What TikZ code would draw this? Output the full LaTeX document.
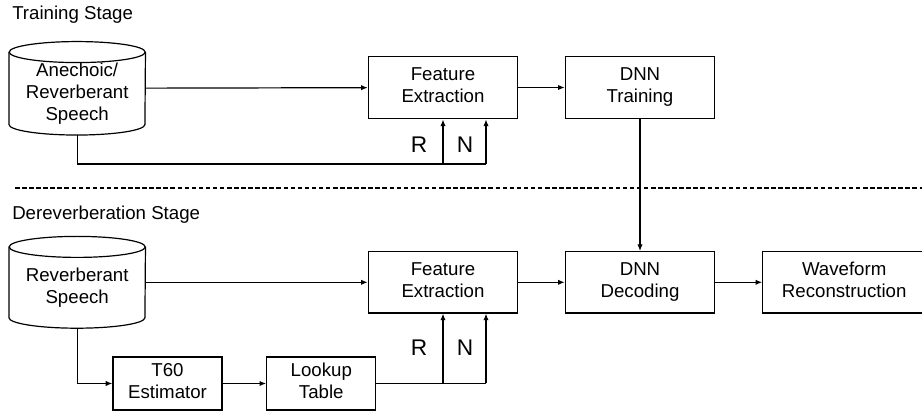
\documentclass[tikz,border=0pt]{standalone}
\usepackage{fontspec}
\setmainfont{Liberation Sans}
\usetikzlibrary{positioning,arrows.meta,calc}

\begin{document}
\begin{tikzpicture}[x=0.75pt,y=-0.75pt]
  \newcommand{\nodename}[1]{\begin{tabular}{c}#1\end{tabular}}
  % outline of a speech database round an (invisible) node
  \newcommand{\drawdb}[1]{
    \draw [wire] ([yshift=-7.9pt]#1.north) ellipse [x radius=68, y radius=10.5];
    \draw [wire] ([yshift=-7.9pt]#1.north west) -- ([yshift=7.9pt]#1.south west)
      arc [start angle=180, end angle=0, x radius=68, y radius=10.5] -- ([yshift=-7.9pt]#1.north east);
  }

  \tikzstyle{block}      = [rectangle, draw, line width=0.9pt, inner sep=0pt, minimum width=112pt, minimum height=47pt, font=\fontsize{14}{16.5}\selectfont]
  \tikzstyle{smallblock} = [block, minimum width=81.75pt, minimum height=39.75pt]
  \tikzstyle{database}   = [rectangle, inner sep=0pt, minimum width=102pt, minimum height=69.75pt]
  \tikzstyle{dbtext}     = [align=center, font=\fontsize{14}{16.5}\selectfont, yshift=-4.5pt]
  \tikzstyle{connector}  = [line width=0.9pt, -{Latex[length=5pt,width=4pt]}]
  \tikzstyle{wire}       = [line width=0.9pt]
  \tikzstyle{stage}      = [anchor=base west, inner sep=0pt, font=\fontsize{14}{16.5}\selectfont]
  \tikzstyle{tag}        = [inner sep=0pt, font=\fontsize{17}{20}\selectfont]

  \clip (0,0) rectangle (922,413);

  % training stage
  \node [stage] (trainstage) at (12,19.5) {Training Stage};

  \node [database, label={[dbtext]center:{\nodename{Anechoic/\\Reverberant\\Speech}}}] (trainspeech) at (77.2,88.3) {};
  \drawdb{trainspeech}
  \node [block] (trainfeat) at (443,87.5) {\nodename{Feature\\Extraction}};
  \node [block] (dnntrain) at (640,87.5) {\nodename{DNN\\Training}};

  \node [tag] (rtag1) at (419,145) {R};
  \node [tag] (ntag1) at (465,145) {N};
  \coordinate (rtap1) at (443,164);
  \coordinate (ntap1) at (486,164);

  \draw [connector] (trainspeech) -- (trainfeat);
  \draw [connector] (trainfeat) -- (dnntrain);
  \draw [wire] (trainspeech.south) |- (ntap1);
  \draw [connector] (rtap1) -- (rtap1 |- trainfeat.south);
  \draw [connector] (ntap1) -- (ntap1 |- trainfeat.south);

  \draw [dashed, dash pattern=on 3.4pt off 1.9pt, line width=0.8pt] (15,188) -- (922,188);

  % dereverberation stage
  \node [stage] (derevstage) at (12,219.5) {Dereverberation Stage};

  \node [database, minimum height=68.5pt, label={[dbtext]center:{\nodename{Reverberant\\Speech}}}] (revspeech) at (77.2,282.3) {};
  \drawdb{revspeech}
  \node [block, minimum height=46pt] (revfeat) at (443,282.3) {\nodename{Feature\\Extraction}};
  \node [block, minimum height=46pt] (dnndecode) at (640,282.3) {\nodename{DNN\\Decoding}};
  \node [block, minimum height=46pt, minimum width=122pt] (waveform) at (844.2,282.3) {\nodename{Waveform\\Reconstruction}};

  \node [smallblock] (t60) at (167.5,383.5) {\nodename{T60\\Estimator}};
  \node [smallblock] (lookup) at (321.3,383.5) {\nodename{Lookup\\Table}};

  \node [tag] (rtag2) at (419,347.5) {R};
  \node [tag] (ntag2) at (465,347.5) {N};
  \coordinate (rtap2) at (443,383.5);
  \coordinate (ntap2) at (486,383.5);

  \draw [connector] (revspeech) -- (revfeat);
  \draw [connector] (revfeat) -- (dnndecode);
  \draw [connector] (dnndecode) -- (waveform);
  \draw [connector] (dnntrain) -- (dnndecode);
  \draw [connector] (revspeech.south) |- (t60.west);
  \draw [connector] (t60) -- (lookup);
  \draw [wire] (lookup.east) -- (ntap2);
  \draw [connector] (rtap2) -- (rtap2 |- revfeat.south);
  \draw [connector] (ntap2) -- (ntap2 |- revfeat.south);
\end{tikzpicture}
\end{document}
